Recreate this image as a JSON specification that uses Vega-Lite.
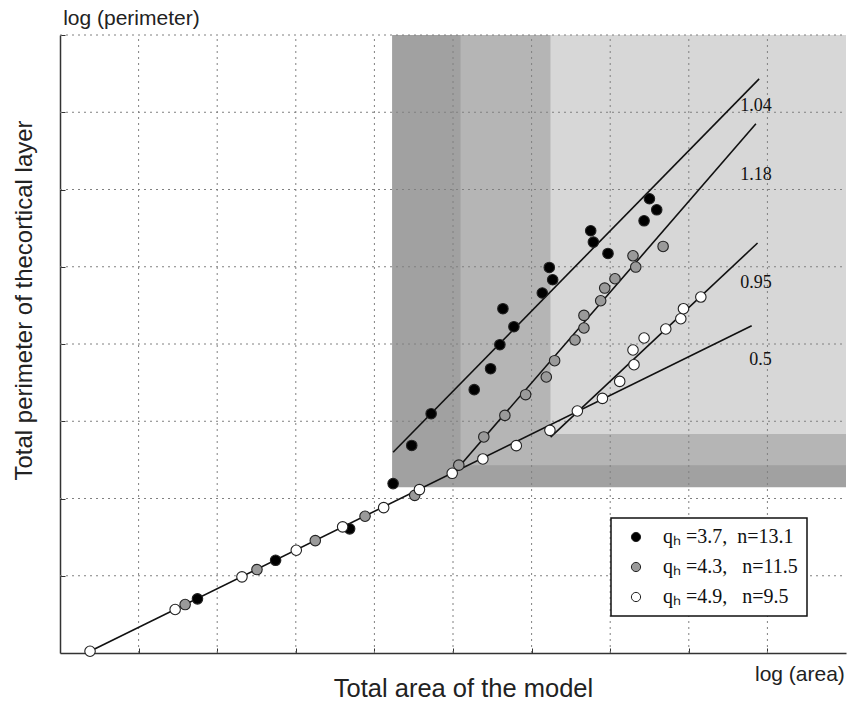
{
  "$schema": "https://vega.github.io/schema/vega-lite/v6.json",
  "autosize": "none",
  "width": 786,
  "height": 618,
  "padding": {"left": 60, "top": 35, "right": 2, "bottom": 49},
  "background": "white",
  "config": {
    "view": {"stroke": null},
    "axis": {"grid": false, "labels": false, "domainColor": "#333", "domainWidth": 1.5, "tickColor": "#333", "tickWidth": 1, "tickSize": -5, "titleFont": "Liberation Sans", "titleFontSize": 24, "titleFontWeight": "normal", "titleColor": "#222"}
  },
  "resolve": {"scale": {"fill": "independent"}, "legend": {"fill": "independent"}},
  "encoding": {
    "x": {"field": "x", "type": "quantitative", "scale": {"domain": [0, 10], "nice": false, "zero": false},
      "axis": {"title": "Total area of the model", "values": [1,2,3,4,5,6,7,8,9], "titleX": 403, "titleY": 43, "titleFontSize": 25.5, "titleBaseline": "alphabetic", "titleAlign": "center", "titleAnchor": null}},
    "y": {"field": "y", "type": "quantitative", "scale": {"domain": [0, 8], "nice": false, "zero": false},
      "axis": {"title": "Total perimeter of thecortical layer", "values": [1,2,3,4,5,6,7,8], "titleX": -29, "titleY": 265, "titleAngle": -90, "titleBaseline": "alphabetic", "titleAlign": "center"}}
  },
  "layer": [
    {
      "data": {"values": [
        {"x": 4.225, "x2": 10, "y": 2.145, "y2": 8, "band": "dark"},
        {"x": 5.096, "x2": 10, "y": 2.43, "y2": 8, "band": "mid"},
        {"x": 6.24, "x2": 10, "y": 2.836, "y2": 8, "band": "light"}
      ]},
      "mark": {"type": "rect"},
      "encoding": {
        "x2": {"field": "x2"},
        "y2": {"field": "y2"},
        "fill": {"field": "band", "type": "nominal", "scale": {"domain": ["dark", "mid", "light"], "range": ["#a1a1a1", "#b5b5b5", "#d7d7d7"]}, "legend": null}
      }
    },
    {
      "data": {"values": [
        {"x": 1, "x2": 1, "y": 0, "y2": 8}, {"x": 2, "x2": 2, "y": 0, "y2": 8}, {"x": 3, "x2": 3, "y": 0, "y2": 8},
        {"x": 4, "x2": 4, "y": 0, "y2": 8}, {"x": 5, "x2": 5, "y": 0, "y2": 8}, {"x": 6, "x2": 6, "y": 0, "y2": 8},
        {"x": 7, "x2": 7, "y": 0, "y2": 8}, {"x": 8, "x2": 8, "y": 0, "y2": 8}, {"x": 9, "x2": 9, "y": 0, "y2": 8},
        {"x": 0, "x2": 10, "y": 1, "y2": 1}, {"x": 0, "x2": 10, "y": 2, "y2": 2}, {"x": 0, "x2": 10, "y": 3, "y2": 3},
        {"x": 0, "x2": 10, "y": 4, "y2": 4}, {"x": 0, "x2": 10, "y": 5, "y2": 5}, {"x": 0, "x2": 10, "y": 6, "y2": 6},
        {"x": 0, "x2": 10, "y": 7, "y2": 7}, {"x": 0, "x2": 10, "y": 8, "y2": 8}
      ]},
      "mark": {"type": "rule", "color": "#808080", "strokeWidth": 1, "strokeDash": [2, 4]},
      "encoding": {"x2": {"field": "x2"}, "y2": {"field": "y2"}}
    },
    {
      "data": {"values": [
        {"line": "0.5", "x": 0.382, "y": 0.023}, {"line": "0.5", "x": 8.8, "y": 4.237},
        {"line": "1.04", "x": 4.238, "y": 2.598}, {"line": "1.04", "x": 8.895, "y": 7.432},
        {"line": "1.18", "x": 5.074, "y": 2.409}, {"line": "1.18", "x": 8.854, "y": 6.85},
        {"line": "0.95", "x": 6.242, "y": 2.794}, {"line": "0.95", "x": 8.875, "y": 5.307}
      ]},
      "mark": {"type": "line", "color": "#111", "strokeWidth": 1.6},
      "encoding": {"detail": {"field": "line", "type": "nominal"}}
    },
    {
      "data": {"values": [
        {"s": "A", "x": 1.749, "y": 0.701},
        {"s": "A", "x": 2.743, "y": 1.2},
        {"s": "A", "x": 3.685, "y": 1.607},
        {"s": "A", "x": 4.238, "y": 2.193},
        {"s": "A", "x": 4.475, "y": 2.687},
        {"s": "A", "x": 4.722, "y": 3.098},
        {"s": "A", "x": 5.27, "y": 3.409},
        {"s": "A", "x": 5.478, "y": 3.68},
        {"s": "A", "x": 5.596, "y": 3.991},
        {"s": "A", "x": 5.775, "y": 4.224},
        {"s": "A", "x": 5.635, "y": 4.457},
        {"s": "A", "x": 6.136, "y": 4.66},
        {"s": "A", "x": 6.225, "y": 4.991},
        {"s": "A", "x": 6.268, "y": 4.832},
        {"s": "A", "x": 6.752, "y": 5.466},
        {"s": "A", "x": 6.786, "y": 5.319},
        {"s": "A", "x": 6.972, "y": 5.172},
        {"s": "A", "x": 7.431, "y": 5.595},
        {"s": "A", "x": 7.499, "y": 5.88},
        {"s": "A", "x": 7.592, "y": 5.737},
        {"s": "B", "x": 1.592, "y": 0.627},
        {"s": "B", "x": 2.506, "y": 1.08},
        {"s": "B", "x": 3.248, "y": 1.455},
        {"s": "B", "x": 3.881, "y": 1.77},
        {"s": "B", "x": 4.513, "y": 2.041},
        {"s": "B", "x": 5.074, "y": 2.432},
        {"s": "B", "x": 5.392, "y": 2.797},
        {"s": "B", "x": 5.66, "y": 3.076},
        {"s": "B", "x": 5.924, "y": 3.344},
        {"s": "B", "x": 6.187, "y": 3.573},
        {"s": "B", "x": 6.293, "y": 3.784},
        {"s": "B", "x": 6.552, "y": 4.052},
        {"s": "B", "x": 6.666, "y": 4.207},
        {"s": "B", "x": 6.666, "y": 4.37},
        {"s": "B", "x": 6.879, "y": 4.56},
        {"s": "B", "x": 6.93, "y": 4.724},
        {"s": "B", "x": 7.061, "y": 4.845},
        {"s": "B", "x": 7.29, "y": 5.142},
        {"s": "B", "x": 7.325, "y": 4.996},
        {"s": "B", "x": 7.673, "y": 5.263},
        {"s": "C", "x": 0.382, "y": 0.023},
        {"s": "C", "x": 1.465, "y": 0.563},
        {"s": "C", "x": 2.315, "y": 0.986},
        {"s": "C", "x": 3.006, "y": 1.33},
        {"s": "C", "x": 3.596, "y": 1.633},
        {"s": "C", "x": 4.118, "y": 1.882},
        {"s": "C", "x": 4.573, "y": 2.115},
        {"s": "C", "x": 4.99, "y": 2.326},
        {"s": "C", "x": 5.38, "y": 2.512},
        {"s": "C", "x": 5.805, "y": 2.684},
        {"s": "C", "x": 6.233, "y": 2.882},
        {"s": "C", "x": 6.582, "y": 3.133},
        {"s": "C", "x": 6.901, "y": 3.296},
        {"s": "C", "x": 7.121, "y": 3.516},
        {"s": "C", "x": 7.303, "y": 3.732},
        {"s": "C", "x": 7.29, "y": 3.922},
        {"s": "C", "x": 7.431, "y": 4.078},
        {"s": "C", "x": 7.707, "y": 4.194},
        {"s": "C", "x": 7.898, "y": 4.327},
        {"s": "C", "x": 7.932, "y": 4.457},
        {"s": "C", "x": 8.153, "y": 4.608}
      ]},
      "mark": {"type": "point", "shape": "circle", "filled": true, "size": 110, "stroke": "#222", "strokeWidth": 1.1, "opacity": 1, "fillOpacity": 1, "strokeOpacity": 1},
      "encoding": {
        "fill": {"field": "s", "type": "nominal",
          "scale": {"domain": ["A", "B", "C"], "range": ["#000000", "#9a9a9a", "#ffffff"]},
          "legend": {"title": null, "orient": "none", "legendX": 551, "legendY": 483, "padding": 9, "rowPadding": 10, "symbolSize": 85, "symbolOffset": 6, "labelOffset": 17, "labelFont": "Liberation Serif", "labelFontSize": 20, "labelColor": "#111", "labelLimit": 300, "strokeColor": "#111", "fillColor": "white", "symbolStrokeColor": "#222", "symbolStrokeWidth": 1, "symbolOpacity": 1,
            "labelExpr": "datum.label == 'A' ? 'qₕ\u00a0=3.7,\u00a0 n=13.1' : datum.label == 'B' ? 'qₕ\u00a0=4.3,\u00a0\u00a0 n=11.5' : 'qₕ\u00a0=4.9,\u00a0\u00a0 n=9.5'",
            "encode": {"legend": {"update": {"strokeWidth": {"value": 1.5}}}}}}
      }
    },
    {
      "data": {"values": [
        {"t": "1.04", "x": 9.055, "y": 7.022},
        {"t": "1.18", "x": 9.055, "y": 6.125},
        {"t": "0.95", "x": 9.055, "y": 4.724},
        {"t": "0.5", "x": 9.055, "y": 3.723}
      ]},
      "mark": {"type": "text", "align": "right", "baseline": "alphabetic", "font": "Liberation Serif", "fontSize": 18, "color": "#111"},
      "encoding": {"text": {"field": "t"}}
    },
    {
      "data": {"values": [
        {"t": "log (perimeter)", "x": 0.04, "y": 8.131},
        {"t": "log (area)", "x": 8.842, "y": -0.356}
      ]},
      "mark": {"type": "text", "align": "left", "baseline": "alphabetic", "font": "Liberation Sans", "fontSize": 21, "color": "#222"},
      "encoding": {"text": {"field": "t"}}
    }
  ]
}
